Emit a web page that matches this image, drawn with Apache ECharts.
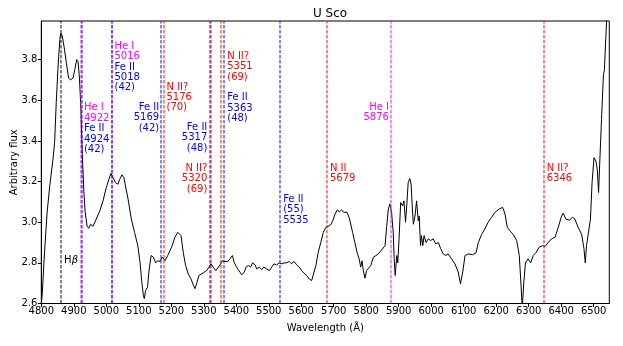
<!DOCTYPE html>
<html>
<head>
<meta charset="utf-8">
<title>U Sco</title>
<script src="https://cdn.jsdelivr.net/npm/echarts@6/dist/echarts.min.js"></script>
<style>
  html, body { margin: 0; padding: 0; background: #fff; }
  #main { width: 623px; height: 346px; }
</style>
</head>
<body>
<div id="main"></div>
<script>
// spectrum
var wavelength = [4800, 4803, 4810, 4818, 4826, 4836, 4841, 4846, 4851, 4857, 4860, 4864, 4870, 4877, 4884, 4890, 4898, 4903, 4909, 4913, 4917, 4921, 4926, 4931, 4935, 4941, 4946, 4952, 4959, 4969, 4980, 4990, 5000, 5008, 5014, 5021, 5028, 5036, 5041, 5048, 5054, 5058, 5067, 5077, 5087, 5097, 5104, 5109, 5114, 5117, 5121, 5127, 5131, 5138, 5145, 5152, 5158, 5165, 5172, 5181, 5189, 5196, 5203, 5211, 5220, 5225, 5230, 5237, 5244, 5252, 5261, 5268, 5273, 5278, 5285, 5294, 5302, 5309, 5316, 5322, 5329, 5337, 5343, 5350, 5357, 5365, 5374, 5381, 5388, 5394, 5401, 5408, 5417, 5425, 5430, 5437, 5444, 5450, 5458, 5463, 5471, 5478, 5485, 5494, 5502, 5509, 5516, 5524, 5532, 5540, 5547, 5555, 5563, 5570, 5578, 5586, 5594, 5601, 5608, 5617, 5625, 5632, 5637, 5645, 5652, 5660, 5668, 5676, 5683, 5690, 5697, 5704, 5711, 5717, 5724, 5731, 5740, 5748, 5758, 5765, 5772, 5778, 5783, 5787, 5791, 5796, 5801, 5806, 5814, 5822, 5830, 5837, 5844, 5850, 5858, 5863, 5868, 5873, 5878, 5883, 5886, 5889, 5894, 5897, 5901, 5906, 5912, 5916, 5921, 5926, 5929, 5934, 5938, 5942, 5945, 5950, 5955, 5960, 5963, 5967, 5970, 5974, 5978, 5984, 5991, 5998, 6006, 6014, 6022, 6029, 6037, 6045, 6052, 6058, 6073, 6083, 6090, 6097, 6104, 6114, 6127, 6138, 6145, 6155, 6165, 6175, 6186, 6196, 6209, 6220, 6227, 6234, 6242, 6252, 6263, 6271, 6276, 6280, 6283, 6285, 6290, 6298, 6306, 6314, 6322, 6332, 6343, 6350, 6360, 6370, 6381, 6391, 6401, 6406, 6414, 6425, 6435, 6442, 6452, 6463, 6470, 6474, 6478, 6483, 6490, 6495, 6501, 6507, 6511, 6515, 6519, 6524, 6530, 6533, 6537, 6540, 6545];
var flux = [2.59, 2.65, 2.854, 3.05, 3.179, 3.31, 3.393, 3.589, 3.75, 3.898, 3.93, 3.92, 3.865, 3.785, 3.71, 3.70, 3.71, 3.75, 3.80, 3.79, 3.72, 3.59, 3.34, 3.15, 3.05, 2.98, 2.97, 2.99, 2.98, 3.015, 3.056, 3.105, 3.171, 3.21, 3.24, 3.22, 3.195, 3.187, 3.21, 3.233, 3.22, 3.187, 3.114, 3.016, 2.95, 2.885, 2.80, 2.71, 2.64, 2.624, 2.664, 2.68, 2.755, 2.836, 2.828, 2.80, 2.81, 2.807, 2.828, 2.811, 2.836, 2.86, 2.885, 2.926, 2.95, 2.958, 2.934, 2.85, 2.787, 2.746, 2.72, 2.69, 2.673, 2.697, 2.738, 2.746, 2.755, 2.762, 2.779, 2.795, 2.779, 2.762, 2.77, 2.79, 2.81, 2.807, 2.807, 2.82, 2.836, 2.80, 2.779, 2.762, 2.741, 2.755, 2.779, 2.787, 2.779, 2.80, 2.79, 2.77, 2.779, 2.767, 2.779, 2.77, 2.762, 2.779, 2.795, 2.79, 2.80, 2.795, 2.80, 2.80, 2.807, 2.795, 2.807, 2.79, 2.779, 2.762, 2.75, 2.738, 2.72, 2.713, 2.72, 2.787, 2.85, 2.90, 2.95, 2.975, 2.98, 2.986, 3.007, 3.04, 3.061, 3.05, 3.061, 3.048, 3.05, 3.02, 2.95, 2.90, 2.85, 2.82, 2.779, 2.81, 2.762, 2.725, 2.762, 2.755, 2.787, 2.828, 2.836, 2.844, 2.856, 2.85, 2.885, 2.98, 3.065, 3.09, 3.048, 2.95, 2.82, 2.738, 2.836, 2.80, 2.918, 3.097, 3.08, 3.105, 3.0, 3.114, 3.195, 3.215, 3.187, 3.065, 2.99, 3.03, 3.105, 3.007, 3.03, 2.885, 2.934, 2.885, 2.934, 2.90, 2.918, 2.91, 2.918, 2.893, 2.90, 2.87, 2.844, 2.836, 2.844, 2.836, 2.795, 2.755, 2.697, 2.755, 2.836, 2.844, 2.84, 2.85, 2.90, 2.94, 2.967, 3.0, 3.024, 3.048, 3.065, 3.073, 3.04, 2.975, 2.958, 2.94, 2.91, 2.836, 2.70, 2.58, 2.58, 2.705, 2.80, 2.82, 2.80, 2.836, 2.85, 2.877, 2.885, 2.88, 2.90, 2.918, 2.926, 2.975, 3.03, 3.045, 3.016, 3.01, 3.024, 3.016, 2.975, 2.94, 2.87, 2.80, 2.885, 2.94, 3.016, 3.195, 3.318, 3.30, 3.26, 3.146, 3.31, 3.506, 3.726, 3.75, 3.898, 3.996, 4.2];

// identified lines
var lineWl = [4861, 4922, 4924, 5016, 5018, 5169, 5176, 5317, 5320, 5351, 5363, 5535, 5679, 5876, 6346];
var lineKind = ['k', 'm', 'b', 'm', 'b', 'b', 'r', 'b', 'r', 'r', 'b', 'b', 'r', 'm', 'r'];

// annotation blocks: anchor wavelength, top of text (flux units), side, text
var noteWl = [4861, 4922, 5016, 5169, 5176, 5317, 5317, 5363, 5363, 5535, 5679, 5876, 6346];
var noteTop = [2.838, 3.588, 3.892, 3.59, 3.691, 3.492, 3.29, 3.841, 3.639, 3.138, 3.29, 3.59, 3.29];
var noteSide = ['r', 'r', 'r', 'l', 'r', 'l', 'l', 'r', 'r', 'r', 'r', 'l', 'r'];
var noteText = [
  '{k|H}{ki|β}',
  '{m|He I}\n{m|4922}\n{b|Fe II}\n{b|4924}\n{b|(42)}',
  '{m|He I}\n{m|5016}\n{b|Fe II}\n{b|5018}\n{b|(42)}',
  '{b|Fe II}\n{b|5169}\n{b|(42)}',
  '{r|N II?}\n{r|5176}\n{r|(70)}',
  '{b|Fe II}\n{b|5317}\n{b|(48)}',
  '{r|N II?}\n{r|5320}\n{r|(69)}',
  '{r|N II?}\n{r|5351}\n{r|(69)}',
  '{b|Fe II}\n{b|5363}\n{b|(48)}',
  '{b|Fe II}\n{b|(55)}\n{b|5535}',
  '{r|N II}\n{r|5679}',
  '{m|He I}\n{m|5876}',
  '{r|N II?}\n{r|6346}'
];

var colorOf = { k: '#000000', m: '#ff00ff', b: '#0000ff', r: '#ff0000' };
var FONT = 'DejaVu Sans';
var lh = 10.4;
var rich = {
  k: { color: colorOf.k, fontFamily: FONT, fontSize: 10, lineHeight: lh },
  ki: { color: colorOf.k, fontFamily: FONT, fontSize: 10, lineHeight: lh, fontStyle: 'italic' },
  m: { color: colorOf.m, fontFamily: FONT, fontSize: 10, lineHeight: lh },
  b: { color: colorOf.b, fontFamily: FONT, fontSize: 10, lineHeight: lh },
  r: { color: colorOf.r, fontFamily: FONT, fontSize: 10, lineHeight: lh }
};

var spectrum = wavelength.map(function (w, i) { return [w, flux[i]]; });

// one series per colour so each dashed marker line keeps its own colour
var lineSeries = ['k', 'm', 'b', 'r'].map(function (kind) {
  var data = [];
  lineWl.forEach(function (w, i) {
    if (lineKind[i] === kind) data.push({ xAxis: w });
  });
  return {
    type: 'line',
    data: [],
    silent: true,
    color: colorOf[kind],
    markLine: {
      silent: true,
      symbol: ['none', 'none'],
      label: { show: false },
      lineStyle: { color: colorOf[kind], type: [3.5, 1.5], width: 1.6, opacity: 0.6 },
      emphasis: { disabled: true },
      data: data
    },
    z: 2
  };
});

var notes = noteWl.map(function (w, i) {
  var right = noteSide[i] === 'r';
  return {
    value: [w, noteTop[i]],
    label: {
      show: true,
      formatter: noteText[i],
      position: right ? [3, 0] : [-2, 0],
      align: right ? 'left' : 'right',
      verticalAlign: 'top',
      rich: rich
    }
  };
});

var chart = echarts.init(document.getElementById('main'), null, { renderer: 'canvas' });

chart.setOption({
  animation: false,
  backgroundColor: '#fff',
  title: {
    text: 'U Sco',
    left: 325,
    textAlign: 'center',
    top: 3,
    textStyle: { fontFamily: FONT, fontSize: 12, fontWeight: 'normal', color: '#000' }
  },
  grid: {
    left: 41.3, right: 13.7, top: 21, bottom: 42.5,
    containLabel: false,
    outerBoundsMode: 'none',
    show: true, borderColor: '#000', borderWidth: 1
  },
  xAxis: {
    type: 'value',
    min: 4800, max: 6548, interval: 100,
    name: 'Wavelength (Å)',
    nameLocation: 'middle',
    nameGap: 20,
    nameMoveOverlap: false,
    nameTextStyle: { fontFamily: FONT, fontSize: 10, color: '#000' },
    axisLine: { show: true, onZero: false, lineStyle: { color: '#000', width: 1 } },
    axisTick: { show: true, inside: false, length: 3.5, lineStyle: { color: '#000' } },
    axisLabel: {
      showMaxLabel: false, fontFamily: FONT, fontSize: 10, color: '#000', margin: 3,
      formatter: function (v) { return String(v); }
    },
    splitLine: { show: false }
  },
  yAxis: {
    type: 'value',
    min: 2.6, max: 3.99, interval: 0.2,
    name: 'Arbitrary flux',
    nameLocation: 'middle',
    nameRotate: 90,
    nameGap: 22,
    nameMoveOverlap: false,
    nameTextStyle: { fontFamily: FONT, fontSize: 10, color: '#000' },
    axisLine: { show: true, onZero: false, lineStyle: { color: '#000', width: 1 } },
    axisTick: { show: true, inside: false, length: 3.5, lineStyle: { color: '#000' } },
    axisLabel: {
      showMaxLabel: false, fontFamily: FONT, fontSize: 10, color: '#000', margin: 4,
      formatter: function (v) { return v.toFixed(1); }
    },
    splitLine: { show: false }
  },
  series: lineSeries.concat([
    {
      type: 'line',
      data: spectrum,
      showSymbol: false,
      symbol: 'none',
      clip: true,
      silent: true,
      lineStyle: { color: '#000', width: 1 },
      z: 3
    },
    {
      type: 'scatter',
      data: notes,
      symbolSize: 0,
      silent: true,
      itemStyle: { opacity: 1 },
      z: 5
    }
  ])
});
</script>
</body>
</html>
